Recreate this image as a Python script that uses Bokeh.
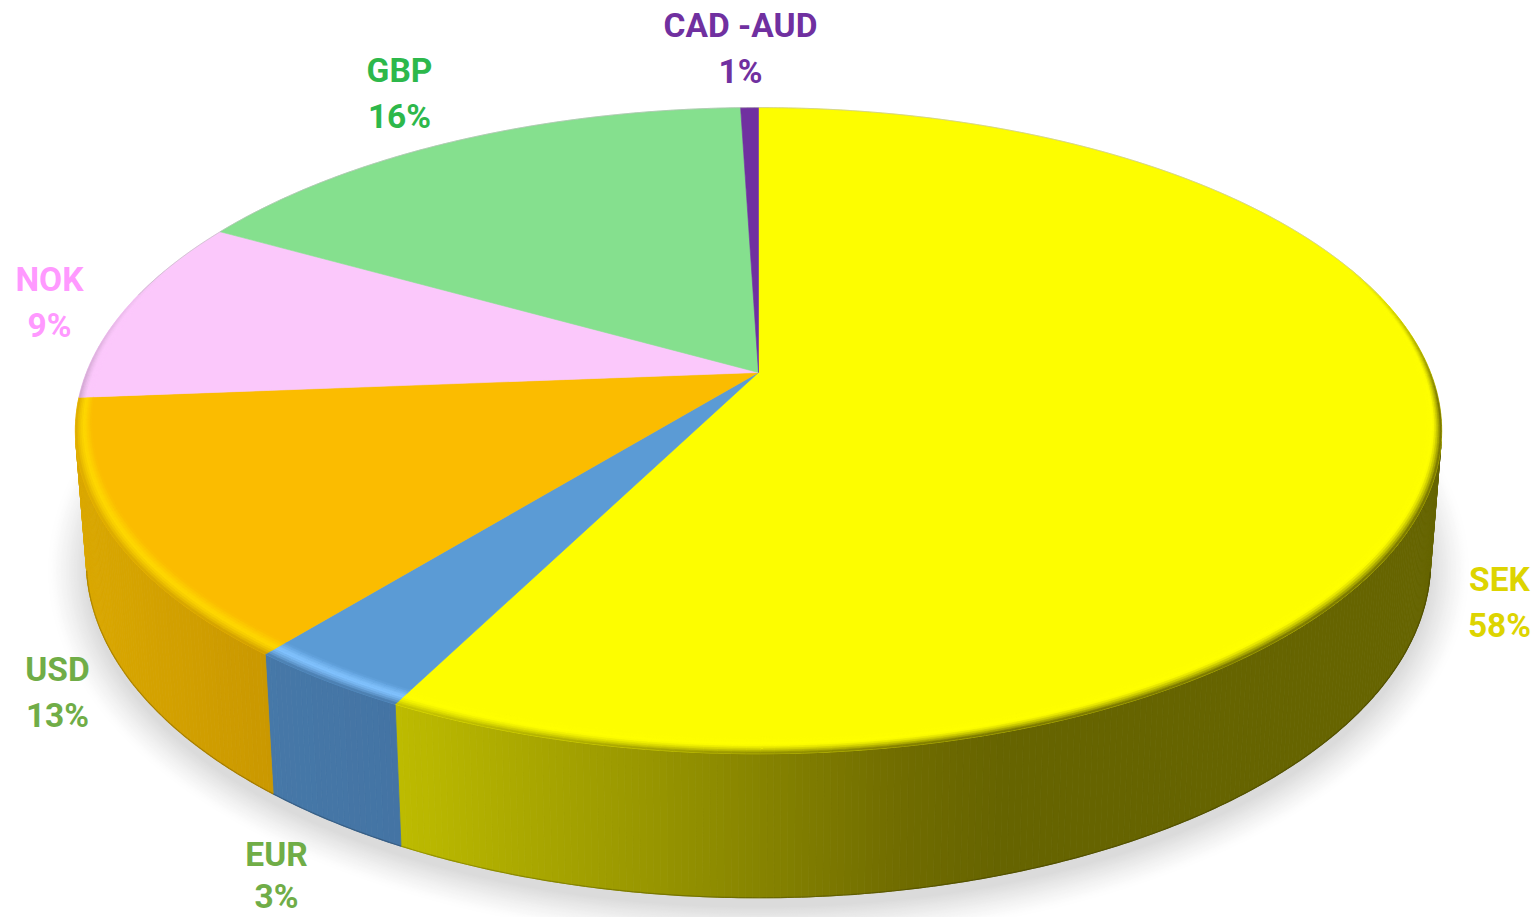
import numpy as np
from bokeh.core.properties import value
from bokeh.embed import file_html
from bokeh.models import ColumnDataSource, Range1d
from bokeh.plotting import figure
from bokeh.resources import INLINE

# ---- data -------------------------------------------------------------
categories = ["SEK", "EUR", "USD", "NOK", "GBP", "CAD -AUD"]
shares = [57.5, 3.38, 12.87, 9.4, 16.35, 0.5]
percent_labels = ["58%", "3%", "13%", "9%", "16%", "1%"]

# ---- styles -----------------------------------------------------------
face_colors = ["#FDFD00", "#5B9BD5", "#FBBC00", "#FBC8FB", "#85E08E", "#7030A0"]
glow_colors = ["#FFFF00", "#82C3FF", "#FFD800", "#FBC8FB", "#85E08E", "#7030A0"]
text_colors = ["#DDD400", "#70AD47", "#70AD47", "#FF99FF", "#2DB84B", "#7030A0"]
label_x = [1499, 276, 57, 49, 399, 740]
label_y = [579, 854, 669, 279, 70, 25]
pct_y = [625, 896, 715, 325, 116, 71]
# side gradient: (x pixel, colour)
side_stops = [
    [(395, "#BEBC00"), (700, "#908E00"), (900, "#706C00"), (1000, "#666400"), (1500, "#666400")],
    [(260, "#4678A8"), (400, "#4474A4")],
    [(80, "#DAA800"), (270, "#CA9800")],
    [(0, "#C8A0C8"), (1500, "#C8A0C8")],
    [(0, "#6AB070"), (1500, "#6AB070")],
    [(0, "#502080"), (1500, "#502080")],
]

# ---- projection of the disc -------------------------------------------
CX, APEX_Y = 758.0, 372.0
K = -0.18
A, B = 672.0, 312.6
TOP_E = (430.0, 683.0, 323.0)
LOW_E = (560.0, 672.0, 337.0)
SILHOUETTE_Y = 442.0


def project(theta, r=1.0):
    u, v = r * np.sin(theta), r * np.cos(theta)
    w = 1 - K * v
    return CX + A * u / w, APEX_Y - B * v / w


def lower(x, y):
    return CX + (x - CX) * LOW_E[1] / TOP_E[1], LOW_E[0] + (y - TOP_E[0]) * LOW_E[2] / TOP_E[2]


def rgb(h):
    return np.array([int(h[i:i + 2], 16) for i in (1, 3, 5)], dtype=float)


def tohex(c):
    return "#%02X%02X%02X" % tuple(int(round(max(0, min(255, q)))) for q in c)


def side_color(i, x):
    stops = side_stops[i]
    xs = [s[0] for s in stops]
    return np.array([np.interp(x, xs, [rgb(s[1])[ch] for s in stops]) for ch in range(3)])


total = sum(shares)
edges = np.concatenate([[0.0], np.cumsum(shares)]) / total * 2 * np.pi

p = figure(width=1537, height=917, x_range=Range1d(0, 1537), y_range=Range1d(917, 0),
           output_backend="svg", toolbar_location=None, min_border=0,
           outline_line_color=None, background_fill_color="white", border_fill_color="white")
p.axis.visible = False
p.grid.visible = False
p.styles = {"position": "absolute", "left": "0px", "top": "0px"}

# ---- soft shadow ------------------------------------------------------
phi = np.linspace(0, 2 * np.pi, 361)
sx, sy, sc = [], [], []
N = 26
for j in range(N):
    d = 40 * (1 - j / (N - 1))
    f = (j / (N - 1)) ** 1.3
    g = 255 - 36 * f
    sx.append(list(CX + (LOW_E[1] + d) * np.cos(phi)))
    sy.append(list(570 + (LOW_E[2] + d * 0.9) * np.sin(phi)))
    sc.append(tohex((g, g, g)))
p.patches(sx, sy, fill_color=sc, line_color=None)

# ---- side wall --------------------------------------------------------
wx, wy, wc = [], [], []
lx, ly, lc = [], [], []
for i in range(len(shares)):
    n = max(2, int((edges[i + 1] - edges[i]) / np.radians(0.5)))
    th = np.linspace(edges[i], edges[i + 1], n + 1)
    for a, b in zip(th[:-1], th[1:]):
        x0, y0 = project(a)
        x1, y1 = project(b)
        if y0 < SILHOUETTE_Y and y1 < SILHOUETTE_Y:
            continue
        x2, y2 = lower(x1, y1)
        x3, y3 = lower(x0, y0)
        wx.append([x0, x1, x2, x3])
        wy.append([y0, y1, y2, y3])
        c = side_color(i, (x0 + x1 + x2 + x3) / 4)
        wc.append(tohex(c))
        lx.append([x3, x2])
        ly.append([y3, y2])
        lc.append(tohex(c * 0.8))
p.patches(wx, wy, fill_color=wc, line_color=wc, line_width=0.8)
p.multi_line(lx, ly, line_color=lc, line_width=1.2)

# ---- top faces --------------------------------------------------------
fx, fy = [], []
for i in range(len(shares)):
    n = max(4, int((edges[i + 1] - edges[i]) / np.radians(0.5)))
    th = np.linspace(edges[i], edges[i + 1], n + 1)
    x, y = project(th)
    fx.append([CX] + list(x))
    fy.append([APEX_Y] + list(y))
p.patches(fx, fy, fill_color=face_colors, line_color=face_colors, line_width=0.6)

# ---- soft bevel at the rim --------------------------------------------
bx, by, bc = [], [], []
RINGS = 9
for i in range(len(shares)):
    n = max(2, int((edges[i + 1] - edges[i]) / np.radians(1.0)))
    th = np.linspace(edges[i], edges[i + 1], n + 1)
    face, glow = rgb(face_colors[i]), rgb(glow_colors[i])
    for a, b in zip(th[:-1], th[1:]):
        vm = np.cos((a + b) / 2)
        if vm > 0.35:
            continue
        strength = np.clip((0.35 - vm) / 0.45, 0, 1)
        width_a = 0.012 + 0.024 * np.clip((0.35 - np.cos(a)) / 1.1, 0, 1)
        width_b = 0.012 + 0.024 * np.clip((0.35 - np.cos(b)) / 1.1, 0, 1)
        for k in range(RINGS):
            t0, t1 = k / RINGS, (k + 1) / RINGS
            xa0, ya0 = project(a, 1 - width_a * (1 - t0))
            xb0, yb0 = project(b, 1 - width_b * (1 - t0))
            xa1, ya1 = project(a, 1 - width_a * (1 - t1))
            xb1, yb1 = project(b, 1 - width_b * (1 - t1))
            t = (t0 + t1) / 2
            edge = side_color(i, (xa1 + xb1) / 2)
            if t < 0.45:
                c = face + (glow - face) * (t / 0.45)
            else:
                s = ((t - 0.45) / 0.55) ** 1.5
                c = glow + (edge - glow) * s
            c = face + (c - face) * strength
            bx.append([xa0, xb0, xb1, xa1])
            by.append([ya0, yb0, yb1, ya1])
            bc.append(tohex(c))
p.patches(bx, by, fill_color=bc, line_color=bc, line_width=0.6)

# ---- faint outline along the back of the disc -------------------------
th = np.radians(np.linspace(-75, 75, 200))
bkx, bky = project(th)
p.line(bkx, bky, line_color="#BDBDBD", line_width=0.8, line_alpha=0.8)

# ---- labels -----------------------------------------------------------
src = ColumnDataSource(dict(x=label_x, y=label_y, y2=pct_y,
                            name=categories, pct=percent_labels, color=text_colors))
for ycol, tcol in (("y", "name"), ("y2", "pct")):
    p.text(x="x", y=ycol, text=tcol, source=src, text_color="color",
           text_font=value("Roboto"), text_font_style="bold", text_font_size="33.5px",
           text_align="center", text_baseline="middle")

open("out.html", "w").write(file_html(p, INLINE))
